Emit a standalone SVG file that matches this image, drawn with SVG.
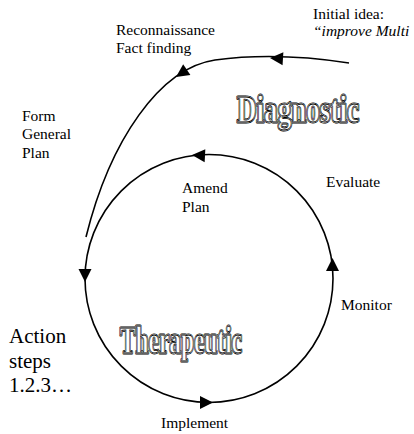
<svg xmlns="http://www.w3.org/2000/svg" width="414" height="434" viewBox="0 0 414 434" font-family="Liberation Serif, Times New Roman, serif">
<style>
text{font-family:'Liberation Serif','Times New Roman',Times,serif}
.lbl{font-size:15.5px;fill:#000}
.big{font-size:21px;fill:#000}
.line{fill:none;stroke:#000;stroke-width:1.6}
.wa{font-weight:bold;font-size:38px}
.wa1{fill:none;stroke:#000;stroke-width:3;stroke-linejoin:round}
.wa2{fill:none;stroke:#fff;stroke-width:1.4;stroke-linejoin:round}
.wa3{fill:#fff;stroke:#000;stroke-width:0.8}
</style>
<defs>
<path id="ah" d="M0,0 L-13,-6.5 L-13,6.5 Z" fill="#000"/>
</defs>
<rect width="414" height="434" fill="#fff"/>
<g id="connectors">
<circle class="line" cx="209" cy="278.5" r="124"/>
<path class="line" d="M349,63 C310,57 260,54 215,60 C160,68 110,140 86,237"/>
<use href="#ah" transform="translate(270,58) rotate(183.5)"/>
<use href="#ah" transform="translate(176,77) rotate(146)"/>
<use href="#ah" transform="translate(192,155) rotate(183)"/>
<use href="#ah" transform="translate(85,282) rotate(90)"/>
<use href="#ah" transform="translate(332.5,258) rotate(-90)"/>
<use href="#ah" transform="translate(213,402.5) rotate(0)"/>
</g>
<g id="initial-idea">
<text class="lbl" x="313" y="19">Initial idea:</text>
<text class="lbl" x="313" y="36" font-style="italic">“improve Multi</text>
</g>
<g id="reconnaissance">
<text class="lbl" x="116" y="35">Reconnaissance</text>
<text class="lbl" x="116" y="53">Fact finding</text>
</g>
<g id="form-general-plan">
<text class="lbl" x="22" y="121">Form</text>
<text class="lbl" x="22" y="139">General</text>
<text class="lbl" x="22" y="158">Plan</text>
</g>
<g id="diagnostic">
<text class="wa wa1" x="237" y="122" textLength="122" lengthAdjust="spacingAndGlyphs">Diagnostic</text>
<text class="wa wa2" x="237" y="122" textLength="122" lengthAdjust="spacingAndGlyphs">Diagnostic</text>
<text class="wa wa3" x="237" y="122" textLength="122" lengthAdjust="spacingAndGlyphs">Diagnostic</text>
</g>
<g id="evaluate">
<text class="lbl" x="326" y="187">Evaluate</text>
</g>
<g id="amend-plan">
<text class="lbl" x="182" y="193">Amend</text>
<text class="lbl" x="182" y="212">Plan</text>
</g>
<g id="monitor">
<text class="lbl" x="341" y="310">Monitor</text>
</g>
<g id="action-steps">
<text class="big" x="9" y="343">Action</text>
<text class="big" x="9" y="368">steps</text>
<text class="big" x="9" y="392">1.2.3…</text>
</g>
<g id="therapeutic">
<text class="wa wa1" x="120" y="353" textLength="122" lengthAdjust="spacingAndGlyphs">Therapeutic</text>
<text class="wa wa2" x="120" y="353" textLength="122" lengthAdjust="spacingAndGlyphs">Therapeutic</text>
<text class="wa wa3" x="120" y="353" textLength="122" lengthAdjust="spacingAndGlyphs">Therapeutic</text>
</g>
<g id="implement">
<text class="lbl" x="161" y="428">Implement</text>
</g>
</svg>
